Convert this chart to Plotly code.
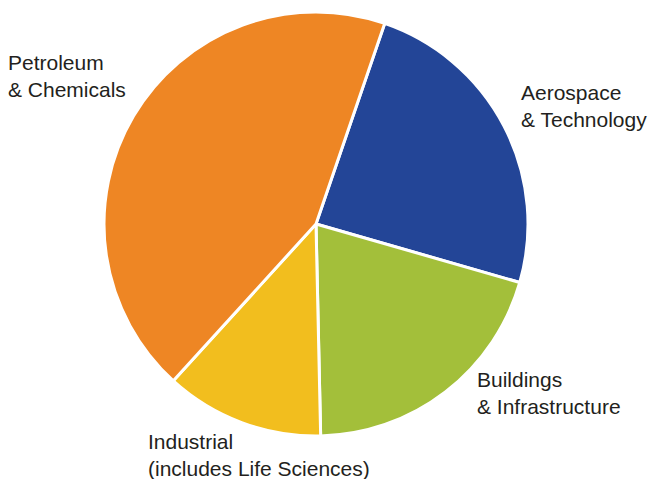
import plotly.graph_objects as go

W, H = 650, 479

labels = ["Aerospace<br>& Technology", "Buildings<br>& Infrastructure",
          "Industrial<br>(includes Life Sciences)", "Petroleum<br>& Chemicals"]
values = [24.2, 20.2, 12.1, 43.5]
colors = ["#234597", "#A3BF3A", "#F2BE1E", "#EE8624"]

# label anchor positions (screen pixels, left / vertical middle)
label_pos = [(521, 106), (477, 393), (148, 455), (8, 76)]


def fx(px):
    return px / W


def fy(py):
    return 1 - py / H


fig = go.Figure(go.Pie(
    values=values,
    labels=labels,
    sort=False,
    direction="clockwise",
    rotation=18.9,
    marker=dict(colors=colors, line=dict(color="white", width=3)),
    textinfo="none",
    hoverinfo="label+percent",
    showlegend=False,
    domain=dict(x=[fx(104), fx(528)], y=[fy(436), fy(12)]),
))

for text, (px, py) in zip(labels, label_pos):
    fig.add_annotation(
        x=fx(px), y=fy(py), xref="paper", yref="paper",
        text=text, showarrow=False, xanchor="left", yanchor="middle", align="left",
        xshift=-2,
        font=dict(family="Liberation Sans, Arial, sans-serif", size=21, color="#231F20"),
    )

fig.update_layout(
    width=W, height=H,
    margin=dict(l=0, r=0, t=0, b=0),
    paper_bgcolor="white", plot_bgcolor="white",
)

fig.write_html(
    "out.html",
    config={"displayModeBar": False},
    post_script="document.body.style.margin='0';document.body.style.overflow='hidden';",
)
